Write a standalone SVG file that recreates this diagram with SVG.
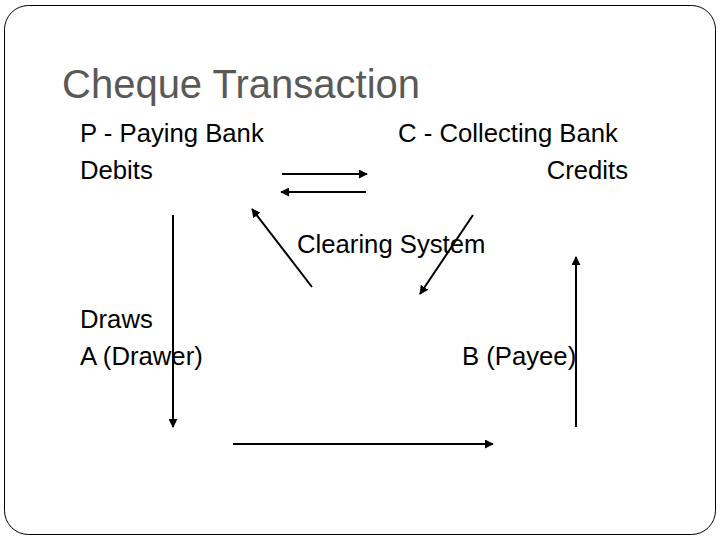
<svg xmlns="http://www.w3.org/2000/svg" width="720" height="540" viewBox="0 0 720 540">
<style>
.t{font-family:"Liberation Sans",Arial,sans-serif;font-size:25.7px;fill:#000}
.title{font-family:"Liberation Sans",Arial,sans-serif;font-size:40px;fill:#595959}
.c{stroke:#000;stroke-width:2;fill:none;marker-end:url(#ah)}
</style>
<defs>
<marker id="ah" viewBox="0 0 10 10" refX="9" refY="5" markerWidth="4.5" markerHeight="4.5" orient="auto" markerUnits="strokeWidth">
<path d="M0,0 L10,5 L0,10 z" fill="#000"/>
</marker>
</defs>
<rect x="4.5" y="5.5" width="711" height="529" rx="24" ry="24" fill="#fff" stroke="#000" stroke-width="1"/>
<text class="title" x="62" y="98">Cheque Transaction</text>
<g id="paying-bank"><text class="t" x="80" y="142">P - Paying Bank</text><text class="t" x="80" y="179">Debits</text></g>
<g id="collecting-bank"><text class="t" x="398" y="142">C - Collecting Bank</text><text class="t" x="628" y="179" text-anchor="end">Credits</text></g>
<g id="clearing-system"><text class="t" x="297" y="253">Clearing System</text></g>
<g id="drawer"><text class="t" x="80" y="328">Draws</text><text class="t" x="80" y="365">A (Drawer)</text></g>
<g id="payee"><text class="t" x="462" y="365">B (Payee)</text></g>
<g id="connectors">
<line class="c" x1="282" y1="174" x2="367" y2="174"/>
<line class="c" x1="366" y1="192" x2="281" y2="192"/>
<line class="c" x1="312" y1="287" x2="252" y2="209"/>
<line class="c" x1="473" y1="215" x2="420" y2="294"/>
<line class="c" x1="173" y1="215" x2="173" y2="427"/>
<line class="c" x1="233" y1="444" x2="493" y2="444"/>
<line class="c" x1="576" y1="427" x2="576" y2="257"/>
</g>
</svg>
